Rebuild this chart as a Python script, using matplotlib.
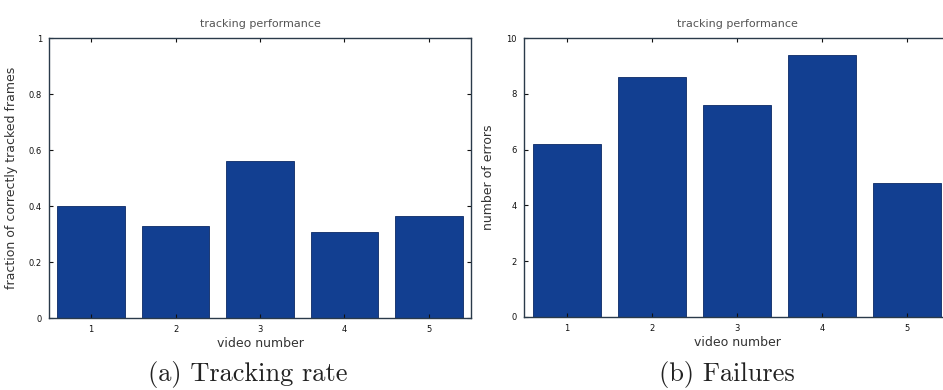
import matplotlib
matplotlib.use('Agg')
import matplotlib.pyplot as plt

# per-video results
videos = [1, 2, 3, 4, 5]
tracked_fraction = [0.40, 0.33, 0.56, 0.307, 0.365]
num_errors = [6.2, 8.6, 7.6, 9.4, 4.8]

BAR_COLOR = '#123f91'
TEXT_COLOR = '#333333'

W, H = 943, 390
fig = plt.figure(figsize=(W / 100, H / 100), dpi=100)


def px_axes(x0, x1, y_top, y_bot):
    # axes position from pixel coordinates (origin top-left)
    return fig.add_axes([x0 / W, 1 - y_bot / H, (x1 - x0) / W, (y_bot - y_top) / H])


def style(ax, ylim, yticks, yticklabels):
    ax.set_xlim(0.5, 5.5)
    ax.set_ylim(*ylim)
    ax.set_xticks(videos)
    ax.set_xticklabels([str(v) for v in videos])
    ax.set_yticks(yticks)
    ax.set_yticklabels(yticklabels)
    ax.tick_params(direction='in', length=3, width=0.8, labelsize=6,
                   colors='#111111', top=True, right=True, pad=5)
    for s in ax.spines.values():
        s.set_color('#2a3a4a')
        s.set_linewidth(1.0)
    ax.set_xlabel('video number', fontsize=9, color=TEXT_COLOR, labelpad=2)
    ax.set_title('tracking performance', fontsize=8, color='#555555', pad=8)


# (a) tracking rate
ax1 = px_axes(49, 471, 38, 318)
ax1.bar(videos, tracked_fraction, width=0.8, color=BAR_COLOR,
        edgecolor='#0b2a66', linewidth=0.6)
style(ax1, (0, 1), [0, 0.2, 0.4, 0.6, 0.8, 1], ['0', '0.2', '0.4', '0.6', '0.8', '1'])
ax1.set_ylabel('fraction of correctly tracked frames', fontsize=9,
               color=TEXT_COLOR, labelpad=8)

# (b) failures -- panel runs past the right edge of the figure
ax2 = px_axes(524, 950, 38, 317)
ax2.bar(videos, num_errors, width=0.8, color=BAR_COLOR,
        edgecolor='#0b2a66', linewidth=0.6)
style(ax2, (0, 10), [0, 2, 4, 6, 8, 10], ['0', '2', '4', '6', '8', '10'])
ax2.spines['right'].set_visible(False)
ax2.tick_params(right=False)
ax2.set_ylabel('number of errors', fontsize=9, color=TEXT_COLOR, labelpad=8)

# sub-figure captions
fig.text(248 / W, 1 - 375 / H, '(a) Tracking rate', family='cmr10',
         fontsize=19, color='#222222', ha='center', va='center')
fig.text(727 / W, 1 - 375 / H, '(b) Failures', family='cmr10',
         fontsize=19, color='#222222', ha='center', va='center')

fig.savefig('out.png', dpi=100)
